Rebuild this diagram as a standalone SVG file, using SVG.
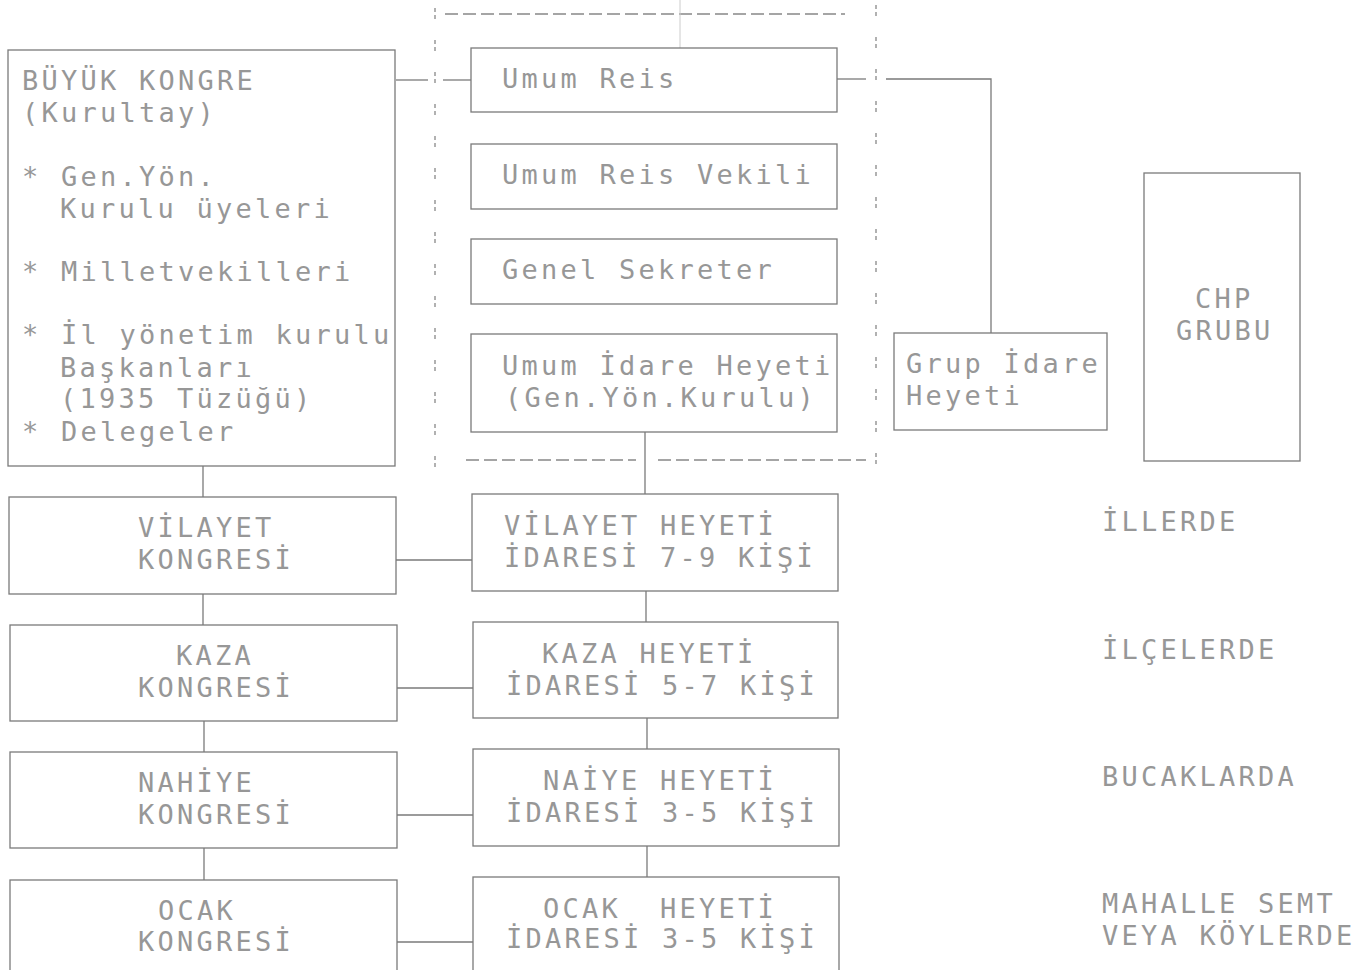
<svg xmlns="http://www.w3.org/2000/svg" width="1364" height="970" viewBox="0 0 1364 970">
<style>
.bx{fill:none;stroke:#7a7a7a;stroke-width:1.3}
.ln{fill:none;stroke:#7a7a7a;stroke-width:1.3}
.dv{fill:none;stroke:#888;stroke-width:1.3;stroke-dasharray:4 3 4 21}
.dh{fill:none;stroke:#888;stroke-width:1.3;stroke-dasharray:13 5}
text{font-family:"DejaVu Sans Mono","Liberation Mono",monospace;font-size:27px;letter-spacing:3.25px;fill:#979797;white-space:pre}
</style>
<rect width="1364" height="970" fill="#fff"/>
<g id="frame">
<line class="dv" x1="435" y1="8" x2="435" y2="470"/>
<line class="dv" x1="876" y1="5" x2="876" y2="468"/>
<line class="dh" x1="445" y1="14" x2="845" y2="14"/>
<line class="dh" x1="466" y1="460" x2="636" y2="460"/>
<line class="dh" x1="658" y1="460" x2="866" y2="460"/>
<line x1="680" y1="0" x2="680" y2="48" stroke="#ccc" stroke-width="1"/>
</g>
<g id="connectors">
<polyline class="ln" points="396,80 428,80"/>
<polyline class="ln" points="443,80 471,80"/>
<polyline class="ln" points="837,79 866,79"/>
<polyline class="ln" points="886,79 991,79 991,333"/>
<line class="ln" x1="645" y1="432" x2="645" y2="494"/>
<line class="ln" x1="203" y1="466" x2="203" y2="497"/>
<line class="ln" x1="203" y1="594" x2="203" y2="625"/>
<line class="ln" x1="204" y1="721" x2="204" y2="752"/>
<line class="ln" x1="204" y1="848" x2="204" y2="880"/>
<line class="ln" x1="646" y1="591" x2="646" y2="622"/>
<line class="ln" x1="647" y1="718" x2="647" y2="749"/>
<line class="ln" x1="647" y1="846" x2="647" y2="877"/>
<line class="ln" x1="396" y1="560" x2="472" y2="560"/>
<line class="ln" x1="397" y1="688" x2="473" y2="688"/>
<line class="ln" x1="397" y1="815" x2="473" y2="815"/>
<line class="ln" x1="397" y1="942" x2="473" y2="942"/>
</g>
<g id="buyuk-kongre">
<rect class="bx" x="8" y="50" width="387" height="416"/>
<text x="22" y="90">BÜYÜK KONGRE</text>
<text x="22" y="122">(Kurultay)</text>
<text x="22" y="186">* Gen.Yön.</text>
<text x="60" y="218">Kurulu üyeleri</text>
<text x="22" y="281">* Milletvekilleri</text>
<text x="22" y="344">* İl yönetim kurulu</text>
<text x="60" y="377">Başkanları</text>
<text x="60" y="408">(1935 Tüzüğü)</text>
<text x="22" y="441">* Delegeler</text>
</g>
<g id="umum-reis">
<rect class="bx" x="471" y="48" width="366" height="64"/>
<text x="502" y="88">Umum Reis</text>
</g>
<g id="umum-reis-vekili">
<rect class="bx" x="471" y="144" width="366" height="65"/>
<text x="502" y="184">Umum Reis Vekili</text>
</g>
<g id="genel-sekreter">
<rect class="bx" x="471" y="239" width="366" height="65"/>
<text x="502" y="279">Genel Sekreter</text>
</g>
<g id="umum-idare-heyeti">
<rect class="bx" x="471" y="334" width="366" height="98"/>
<text x="502" y="375">Umum İdare Heyeti</text>
<text x="505" y="407">(Gen.Yön.Kurulu)</text>
</g>
<g id="grup-idare-heyeti">
<rect class="bx" x="894" y="333" width="213" height="97"/>
<text x="906" y="373">Grup İdare</text>
<text x="906" y="405">Heyeti</text>
</g>
<g id="chp-grubu">
<rect class="bx" x="1144" y="173" width="156" height="288"/>
<text x="1195" y="308">CHP</text>
<text x="1176" y="340">GRUBU</text>
</g>
<g id="vilayet-kongresi">
<rect class="bx" x="9" y="497" width="387" height="97"/>
<text x="138" y="537">VİLAYET</text>
<text x="138" y="569">KONGRESİ</text>
</g>
<g id="kaza-kongresi">
<rect class="bx" x="10" y="625" width="387" height="96"/>
<text x="176" y="665">KAZA</text>
<text x="138" y="697">KONGRESİ</text>
</g>
<g id="nahiye-kongresi">
<rect class="bx" x="10" y="752" width="387" height="96"/>
<text x="138" y="792">NAHİYE</text>
<text x="138" y="824">KONGRESİ</text>
</g>
<g id="ocak-kongresi">
<rect class="bx" x="10" y="880" width="387" height="100"/>
<text x="158" y="920">OCAK</text>
<text x="138" y="951">KONGRESİ</text>
</g>
<g id="vilayet-heyeti">
<rect class="bx" x="472" y="494" width="366" height="97"/>
<text x="504" y="535">VİLAYET HEYETİ</text>
<text x="504" y="567">İDARESİ 7-9 KİŞİ</text>
</g>
<g id="kaza-heyeti">
<rect class="bx" x="473" y="622" width="365" height="96"/>
<text x="542" y="663">KAZA HEYETİ</text>
<text x="506" y="695">İDARESİ 5-7 KİŞİ</text>
</g>
<g id="naiye-heyeti">
<rect class="bx" x="473" y="749" width="366" height="97"/>
<text x="543" y="790">NAİYE HEYETİ</text>
<text x="506" y="822">İDARESİ 3-5 KİŞİ</text>
</g>
<g id="ocak-heyeti">
<rect class="bx" x="473" y="877" width="366" height="103"/>
<text x="543" y="918">OCAK  HEYETİ</text>
<text x="506" y="948">İDARESİ 3-5 KİŞİ</text>
</g>
<g id="levels">
<text x="1102" y="531">İLLERDE</text>
<text x="1102" y="659">İLÇELERDE</text>
<text x="1102" y="786">BUCAKLARDA</text>
<text x="1102" y="913">MAHALLE SEMT</text>
<text x="1102" y="945">VEYA KÖYLERDE</text>
</g>
</svg>
